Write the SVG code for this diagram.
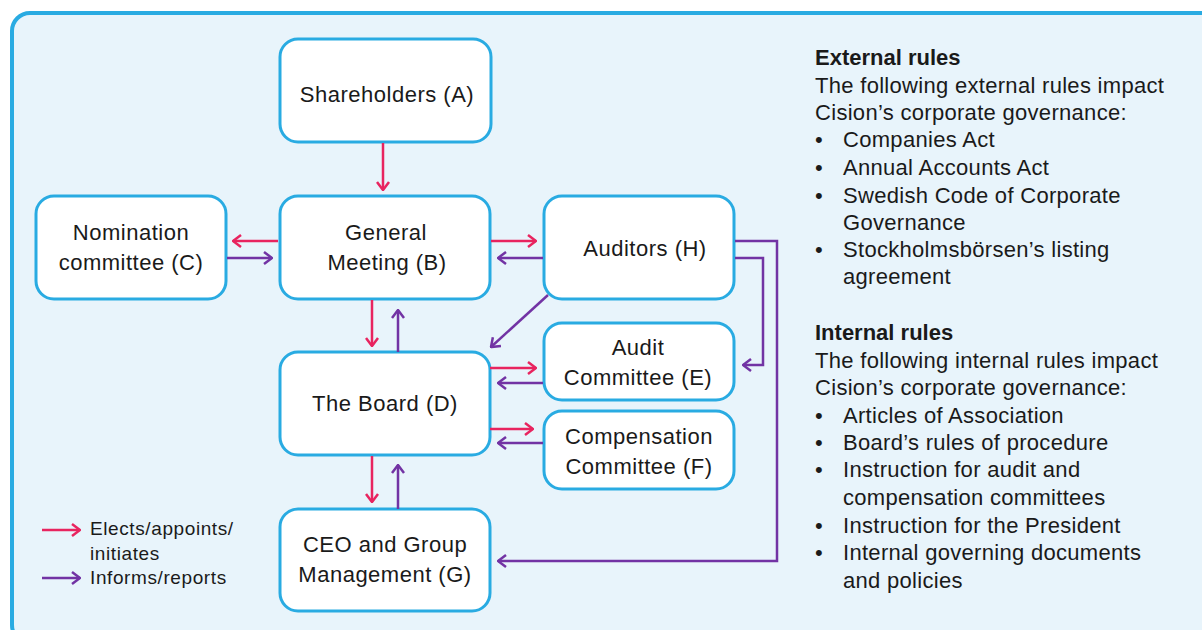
<svg xmlns="http://www.w3.org/2000/svg" width="1202" height="630" viewBox="0 0 1202 630">
  <style>
    .frame { fill: #e8f4fb; stroke: #29abe2; stroke-width: 4; }
    .node rect { fill: #ffffff; stroke: #29abe2; stroke-width: 3; }
    .label { font-family: "Liberation Sans", Arial, sans-serif; font-size: 22px; letter-spacing: 0.5px; fill: #1a1a1a; text-anchor: middle; }
    .side { font-family: "Liberation Sans", Arial, sans-serif; font-size: 22px; letter-spacing: 0.3px; fill: #1a1a1a; }
    .side .head { font-weight: bold; letter-spacing: 0; }
    .legend { font-family: "Liberation Sans", Arial, sans-serif; font-size: 19px; letter-spacing: 0.6px; fill: #1a1a1a; }
    .elect { fill: none; stroke: #e8245f; stroke-width: 2.5; marker-end: url(#headRed); }
    .inform { fill: none; stroke: #7233a4; stroke-width: 2.5; marker-end: url(#headPurple); }
  </style>
  <defs>
    <marker id="headRed" viewBox="0 0 10 14" refX="9" refY="7" markerWidth="10" markerHeight="14" markerUnits="userSpaceOnUse" orient="auto">
      <path d="M1,1 L9,7 L1,13" fill="none" stroke="#e8245f" stroke-width="2.5"/>
    </marker>
    <marker id="headPurple" viewBox="0 0 10 14" refX="9" refY="7" markerWidth="10" markerHeight="14" markerUnits="userSpaceOnUse" orient="auto">
      <path d="M1,1 L9,7 L1,13" fill="none" stroke="#7233a4" stroke-width="2.5"/>
    </marker>
  </defs>

  <rect class="frame" x="12" y="13" width="1210" height="630" rx="18"/>

  <!-- governance bodies -->
  <g id="nodeA" class="node">
    <rect x="280" y="39" width="211" height="103" rx="18"/>
    <text class="label" x="387" y="102">Shareholders (A)</text>
  </g>
  <g id="nodeC" class="node">
    <rect x="36" y="196" width="190" height="103" rx="18"/>
    <text class="label" x="131" y="240">Nomination</text>
    <text class="label" x="131" y="270">committee (C)</text>
  </g>
  <g id="nodeB" class="node">
    <rect x="280" y="196" width="210" height="103" rx="18"/>
    <text class="label" x="386" y="240">General</text>
    <text class="label" x="387" y="270">Meeting (B)</text>
  </g>
  <g id="nodeH" class="node">
    <rect x="544" y="196" width="190" height="103" rx="18"/>
    <text class="label" x="645" y="256">Auditors (H)</text>
  </g>
  <g id="nodeD" class="node">
    <rect x="280" y="352" width="210" height="103" rx="18"/>
    <text class="label" x="385" y="411">The Board (D)</text>
  </g>
  <g id="nodeE" class="node">
    <rect x="544" y="323" width="190" height="77" rx="18"/>
    <text class="label" x="638" y="355">Audit</text>
    <text class="label" x="638" y="385">Committee (E)</text>
  </g>
  <g id="nodeF" class="node">
    <rect x="544" y="411" width="190" height="78" rx="18"/>
    <text class="label" x="639" y="444">Compensation</text>
    <text class="label" x="639" y="474">Committee (F)</text>
  </g>
  <g id="nodeG" class="node">
    <rect x="280" y="509" width="210" height="102" rx="18"/>
    <text class="label" x="385" y="552">CEO and Group</text>
    <text class="label" x="385" y="582">Management (G)</text>
  </g>

  <!-- connectors -->
  <g id="connectors">
    <path class="elect" d="M383,143 V190"/>
    <path class="elect" d="M278,241 H233"/>
    <path class="inform" d="M227,258 H272"/>
    <path class="elect" d="M491,241 H536"/>
    <path class="inform" d="M543,258 H498"/>
    <path class="elect" d="M372,300 V346"/>
    <path class="inform" d="M398,352 V310"/>
    <path class="inform" d="M548,295 L491,347"/>
    <path class="inform" d="M735,258 H763 V365 H743"/>
    <path class="inform" d="M735,241 H777 V561 H498"/>
    <path class="elect" d="M490,368 H536"/>
    <path class="inform" d="M543,383 H498"/>
    <path class="elect" d="M490,429 H533"/>
    <path class="inform" d="M543,443 H498"/>
    <path class="elect" d="M372,456 V502"/>
    <path class="inform" d="M398,509 V465"/>
  </g>

  <!-- legend -->
  <g id="legend">
    <path class="elect" d="M42,530 H80"/>
    <text class="legend" x="90" y="535">Elects/appoints/</text>
    <text class="legend" x="90" y="560">initiates</text>
    <path class="inform" d="M42,578 H80"/>
    <text class="legend" x="90" y="584">Informs/reports</text>
  </g>

  <!-- rule lists -->
  <g id="externalRules" class="side">
    <text class="head" x="815" y="65">External rules</text>
    <text x="815" y="93">The following external rules impact</text>
    <text x="815" y="120">Cision’s corporate governance:</text>
    <text x="815" y="147">•</text><text x="843" y="147">Companies Act</text>
    <text x="815" y="175">•</text><text x="843" y="175">Annual Accounts Act</text>
    <text x="815" y="203">•</text><text x="843" y="203">Swedish Code of Corporate</text>
    <text x="843" y="230">Governance</text>
    <text x="815" y="257">•</text><text x="843" y="257">Stockholmsbörsen’s listing</text>
    <text x="843" y="284">agreement</text>
  </g>
  <g id="internalRules" class="side">
    <text class="head" x="815" y="340">Internal rules</text>
    <text x="815" y="368">The following internal rules impact</text>
    <text x="815" y="395">Cision’s corporate governance:</text>
    <text x="815" y="423">•</text><text x="843" y="423">Articles of Association</text>
    <text x="815" y="450">•</text><text x="843" y="450">Board’s rules of procedure</text>
    <text x="815" y="477">•</text><text x="843" y="477">Instruction for audit and</text>
    <text x="843" y="505">compensation committees</text>
    <text x="815" y="533">•</text><text x="843" y="533">Instruction for the President</text>
    <text x="815" y="560">•</text><text x="843" y="560">Internal governing documents</text>
    <text x="843" y="588">and policies</text>
  </g>
</svg>
